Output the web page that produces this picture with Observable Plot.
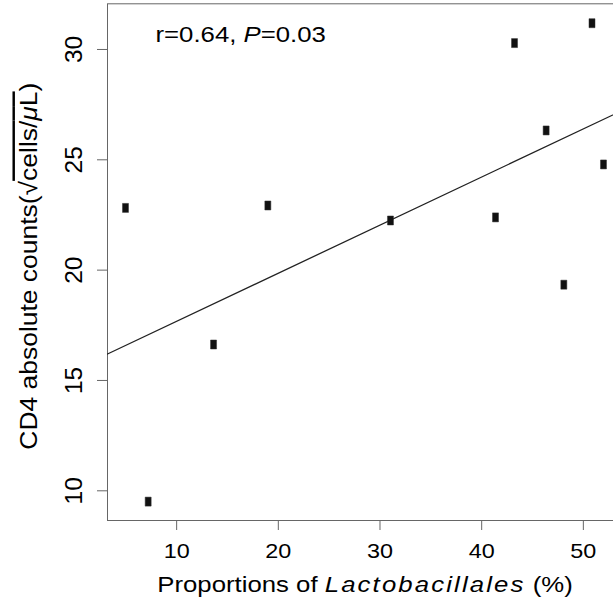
<!DOCTYPE html>
<html>
<head>
<meta charset="utf-8">
<script src="https://cdn.jsdelivr.net/npm/d3@7"></script>
<script src="https://cdn.jsdelivr.net/npm/@observablehq/plot@0.6"></script>
<style>
  html, body { margin: 0; padding: 0; background: #fff; overflow: hidden; }
  #chart svg { display: block; max-width: none !important; }
</style>
</head>
<body>
<div id="chart"></div>
<script>
// Proportion of Lactobacillales (%) per subject
const lactobacillales = [4.97, 7.20, 13.63, 18.97, 31.03, 41.36, 43.23, 46.34, 48.08, 50.85, 51.98];
// CD4 absolute counts on the square-root scale (√cells/μL)
const cd4Sqrt = [22.82, 9.51, 16.63, 22.93, 22.25, 22.39, 30.29, 26.33, 19.34, 31.19, 24.79];

const xTicks = [10, 20, 30, 40, 50];
const yTicks = [10, 15, 20, 25, 30];

// Correlation statistics printed in the corner
const statNames = ["r", "P"];
const statValues = ["0.64", "0.03"];

const xTitleParts = ["Proportions of ", "Lactobacillales", " (%)"];
const yTitleParts = ["CD4 absolute counts(", "√", "cells/", "μ", "L", ")"];

const xDomain = [3.2, 53.85];
const yDomain = [8.654, 32.07];

const rows = lactobacillales.map((x, i) => ({x, y: cd4Sqrt[i]}));

// Ordinary least-squares fit, drawn across the whole panel
const mx = d3.mean(lactobacillales), my = d3.mean(cd4Sqrt);
const slope = d3.sum(lactobacillales, (x, i) => (x - mx) * (cd4Sqrt[i] - my)) /
              d3.sum(lactobacillales, x => (x - mx) ** 2);
const intercept = my - slope * mx;
const fitLine = xDomain.map(x => ({x, y: intercept + slope * x}));

// Small filled rectangle used as the point marker
const marker = {draw(context) { context.rect(-3, -4.5, 6, 9); }};

const statText = statNames.map((n, i) => `${n}=${statValues[i]}`).join(", ");
const xTitle = xTitleParts.join("");
const yTitle = yTitleParts.join("");

const chart = Plot.plot({
  width: 622,
  height: 601,
  marginLeft: 107,
  marginRight: 0,
  marginTop: 3.3,
  marginBottom: 81,
  x: {domain: xDomain},
  y: {domain: yDomain},
  style: {fontFamily: "'Liberation Sans', Arial, Helvetica, sans-serif", color: "#000", background: "#fff", overflow: "visible", maxWidth: "none"},
  marks: [
    Plot.frame({stroke: "#666"}),
    Plot.axisX({ticks: xTicks, tickSize: 10, tickPadding: 13, fontSize: 20, stroke: "#666", fill: "#000", label: null}),
    Plot.axisY({ticks: yTicks, tickSize: 10, tickPadding: 16, tickRotate: -90, fontSize: 24.5, stroke: "#666", fill: "#000", label: null}),
    Plot.line(fitLine, {x: "x", y: "y", stroke: "#222", strokeWidth: 1.3, clip: true}),
    Plot.dot(rows, {x: "x", y: "y", symbol: marker, fill: "#111", stroke: "#333", strokeWidth: 0.5}),
    Plot.text([statText], {text: d => d, frameAnchor: "top-left", dx: 48, dy: 38.4, textAnchor: "start", lineAnchor: "bottom", fontSize: 23, fill: "#000"}),
    Plot.text([xTitle], {text: d => d, frameAnchor: "bottom", dy: 71.7, textAnchor: "middle", lineAnchor: "bottom", fontSize: 23, fill: "#000"}),
    Plot.text([yTitle], {text: d => d, frameAnchor: "left", dx: -71, dy: 4, rotate: -90, textAnchor: "middle", lineAnchor: "bottom", fontSize: 24.5, fill: "#000"})
  ]
});

document.getElementById("chart").appendChild(chart);

const NS = "http://www.w3.org/2000/svg";

// Widen glyphs along the reading direction, anchored at each label's position
function stretch(el, k) {
  const t = el.getAttribute("transform");
  if (t) el.setAttribute("transform", `${t} scale(${k},1)`);
  else {
    const x = +el.getAttribute("x") || 0, y = +el.getAttribute("y") || 0;
    el.setAttribute("transform", `translate(${x},${y}) scale(${k},1) translate(${-x},${-y})`);
  }
}

function span(parent, text, attrs = {}) {
  const s = document.createElementNS(NS, "tspan");
  for (const [k, v] of Object.entries(attrs)) s.setAttribute(k, v);
  if (text != null) s.textContent = text;
  parent.appendChild(s);
  return s;
}

const tickStrings = new Set(xTicks.map(String));

chart.querySelectorAll("text").forEach(el => {
  const content = el.textContent;
  const t = el.getAttribute("transform") || "";
  if (content === statText) {
    // statistic label with italic P
    el.textContent = "";
    span(el, `${statNames[0]}=${statValues[0]}, `);
    span(el, statNames[1], {"font-style": "italic"});
    span(el, `=${statValues[1]}`);
    stretch(el, 1.12);
  } else if (content === xTitle) {
    // x title with italic, letter-spaced order name
    el.textContent = "";
    span(el, xTitleParts[0]);
    span(el, xTitleParts[1], {"font-style": "italic", "letter-spacing": "1.9"});
    span(el, xTitleParts[2]);
    stretch(el, 1.12);
  } else if (content === yTitle) {
    // y title with a square-root bar over the unit
    el.textContent = "";
    span(el, yTitleParts[0]);
    span(el, yTitleParts[1]);
    const under = span(el, null, {style: "text-decoration: overline"});
    span(under, yTitleParts[2]);
    span(under, yTitleParts[3], {"font-style": "italic"});
    span(under, yTitleParts[4]);
    span(el, yTitleParts[5]);
    stretch(el, 1.08);
  } else if (tickStrings.has(content) && !t.includes("rotate")) {
    stretch(el, 1.17);
  }
});
</script>
</body>
</html>
